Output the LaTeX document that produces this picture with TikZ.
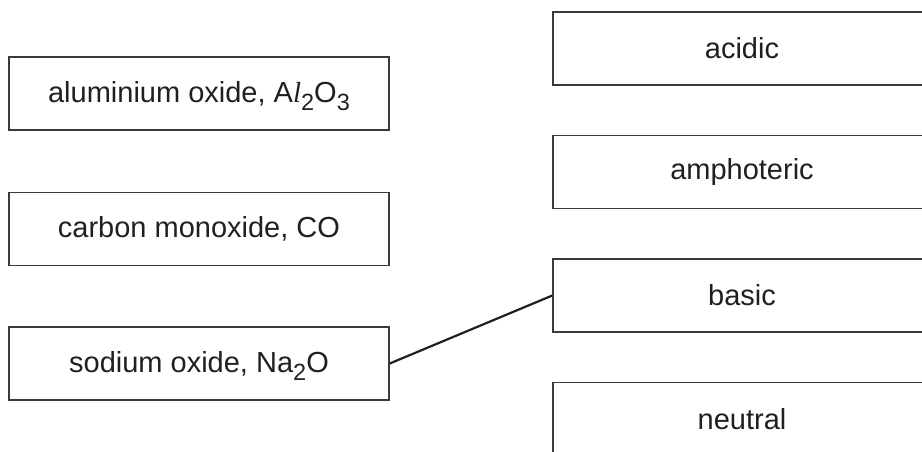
\documentclass[tikz,border=0pt]{standalone}
\usepackage{fontspec}
\setmainfont{Liberation Sans}
\newfontfamily\ellfont{Liberation Serif}
\definecolor{boxline}{HTML}{3A3A3A}
\definecolor{txt}{HTML}{231F20}
\newcommand{\subnum}[1]{\raisebox{-8pt}[0pt][0pt]{\fontsize{23.5}{24}\selectfont #1}}
\tikzset{
  optbox/.style={draw=boxline, line width=1.4pt, rectangle, inner sep=0pt,
    minimum width=380pt, minimum height=73pt, text=txt, font=\fontsize{29}{34}\selectfont},
  rbox/.style={optbox, minimum width=378pt},
  link/.style={draw=txt, line width=2.2pt}
}
\begin{document}
\begin{tikzpicture}[x=1pt,y=-1pt]
\useasboundingbox (0,0) rectangle (922,451);
\clip (0,0) rectangle (922,451);
\node[optbox] (al) at (199,93.5) {aluminium oxide, A{\ellfont\itshape l}\subnum{2}O\subnum{3}};
\node[optbox] (co) at (199,229) {carbon monoxide, CO};
\node[optbox] (na) at (199,363.5) {sodium oxide, Na\subnum{2}O};
\node[rbox] (acid) at (742,48.5) {acidic};
\node[rbox] (amph) at (742,172) {amphoteric};
\node[rbox] (basic) at (742,295.5) {basic};
\node[rbox] (neutral) at (742,419) {neutral};
\draw[link] (na.east) -- (basic.west);
\end{tikzpicture}
\end{document}
